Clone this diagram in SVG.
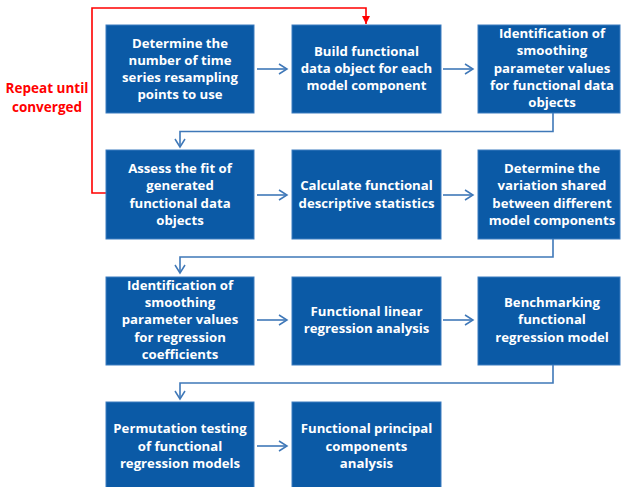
<svg xmlns="http://www.w3.org/2000/svg" width="623" height="487" viewBox="0 0 623 487">
  <defs>
    <marker id="open-arrow" markerWidth="12" markerHeight="12" refX="9" refY="6" orient="auto" markerUnits="userSpaceOnUse">
      <path d="M1,1 L9,6 L1,11" fill="none" stroke="#3f78b8" stroke-width="1.5"/>
    </marker>
    <marker id="red-arrow" markerWidth="10" markerHeight="10" refX="8" refY="5" orient="auto" markerUnits="userSpaceOnUse">
      <path d="M0,1 L8,5 L0,9 Z" fill="#ff0000"/>
    </marker>
  </defs>
  <style>
    .box { fill: #0b5aa6; stroke: #3c7cc0; stroke-width: 1; }
    .label { font-family: "Open Sans", "Liberation Sans", Arial, sans-serif; font-weight: bold; font-size: 13.2px; fill: #ffffff; text-anchor: middle; }
    .flow { fill: none; stroke: #3f78b8; stroke-width: 1.6; marker-end: url(#open-arrow); }
    .loop { fill: none; stroke: #ff0000; stroke-width: 1.6; }
    .note { font-family: "Open Sans", "Liberation Sans", Arial, sans-serif; font-weight: bold; font-size: 13.5px; fill: #ff0000; text-anchor: middle; }
  </style>
  <rect width="623" height="487" fill="#ffffff"/>

  <!-- connectors -->
  <g id="connectors">
    <!-- row 1 -->
    <line class="flow" x1="257" y1="69" x2="287" y2="69"/>
    <line class="flow" x1="443" y1="69" x2="473" y2="69"/>
    <polyline class="flow" points="553,113 553,131.5 180,131.5 180,147"/>
    <!-- row 2 -->
    <line class="flow" x1="257" y1="195" x2="287" y2="195"/>
    <line class="flow" x1="443" y1="195" x2="473" y2="195"/>
    <polyline class="flow" points="553,239 553,257 180,257 180,273"/>
    <!-- row 3 -->
    <line class="flow" x1="257" y1="320" x2="287" y2="320"/>
    <line class="flow" x1="443" y1="320" x2="473" y2="320"/>
    <polyline class="flow" points="553,365 553,383 180,383 180,399"/>
    <!-- row 4 -->
    <line class="flow" x1="257" y1="446" x2="287" y2="446"/>
    <!-- iteration loop -->
    <polyline class="loop" points="106,193 92,193 92,8 366,8 366,24" marker-end="url(#red-arrow)"/>
  </g>

  <g id="loop-label">
    <text class="note" x="47" y="93">Repeat until</text>
    <text class="note" x="47" y="112">converged</text>
  </g>

  <!-- row 1 -->
  <g id="resampling-points">
    <rect class="box" x="106" y="25" width="148" height="88"/>
    <text class="label" x="180" y="47.5">Determine the</text>
    <text class="label" x="180" y="64.8">number of time</text>
    <text class="label" x="180" y="82.1">series resampling</text>
    <text class="label" x="180" y="99.4">points to use</text>
  </g>
  <g id="build-fd-object">
    <rect class="box" x="292" y="25" width="149" height="88"/>
    <text class="label" x="366.5" y="55.5">Build functional</text>
    <text class="label" x="366.5" y="72.8">data object for each</text>
    <text class="label" x="366.5" y="90.1">model component</text>
  </g>
  <g id="smoothing-fd">
    <rect class="box" x="478" y="25" width="142" height="88"/>
    <text class="label" x="552" y="38">Identification of</text>
    <text class="label" x="552" y="55.3">smoothing</text>
    <text class="label" x="552" y="72.6">parameter values</text>
    <text class="label" x="552" y="89.9">for functional data</text>
    <text class="label" x="552" y="107.2">objects</text>
  </g>

  <!-- row 2 -->
  <g id="assess-fit">
    <rect class="box" x="106" y="150" width="148" height="89"/>
    <text class="label" x="180" y="173">Assess the fit of</text>
    <text class="label" x="180" y="190.3">generated</text>
    <text class="label" x="180" y="207.6">functional data</text>
    <text class="label" x="180" y="224.9">objects</text>
  </g>
  <g id="descriptive-stats">
    <rect class="box" x="292" y="150" width="149" height="89"/>
    <text class="label" x="366.5" y="190.3">Calculate functional</text>
    <text class="label" x="366.5" y="207.6">descriptive statistics</text>
  </g>
  <g id="shared-variation">
    <rect class="box" x="478" y="150" width="142" height="89"/>
    <text class="label" x="552" y="173">Determine the</text>
    <text class="label" x="552" y="190.3">variation shared</text>
    <text class="label" x="552" y="207.6">between different</text>
    <text class="label" x="552" y="224.9">model components</text>
  </g>

  <!-- row 3 -->
  <g id="smoothing-regression">
    <rect class="box" x="106" y="277" width="148" height="88"/>
    <text class="label" x="180" y="289.8">Identification of</text>
    <text class="label" x="180" y="307.1">smoothing</text>
    <text class="label" x="180" y="324.4">parameter values</text>
    <text class="label" x="180" y="341.7">for regression</text>
    <text class="label" x="180" y="359">coefficients</text>
  </g>
  <g id="linear-regression">
    <rect class="box" x="292" y="277" width="149" height="88"/>
    <text class="label" x="366.5" y="316">Functional linear</text>
    <text class="label" x="366.5" y="333.3">regression analysis</text>
  </g>
  <g id="benchmarking">
    <rect class="box" x="478" y="277" width="142" height="88"/>
    <text class="label" x="552" y="307.1">Benchmarking</text>
    <text class="label" x="552" y="324.4">functional</text>
    <text class="label" x="552" y="341.7">regression model</text>
  </g>

  <!-- row 4 -->
  <g id="permutation-testing">
    <rect class="box" x="106" y="402" width="148" height="88"/>
    <text class="label" x="180" y="433.2">Permutation testing</text>
    <text class="label" x="180" y="450.5">of functional</text>
    <text class="label" x="180" y="467.8">regression models</text>
  </g>
  <g id="fpca">
    <rect class="box" x="292" y="402" width="149" height="88"/>
    <text class="label" x="366.5" y="433.2">Functional principal</text>
    <text class="label" x="366.5" y="450.5">components</text>
    <text class="label" x="366.5" y="467.8">analysis</text>
  </g>
</svg>
